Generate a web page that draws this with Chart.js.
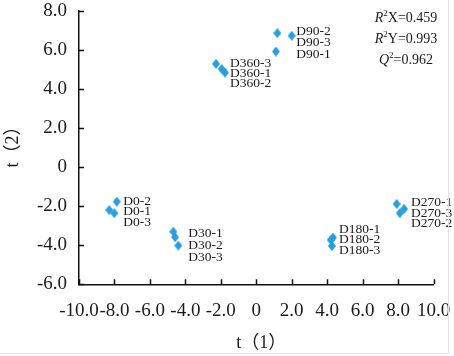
<!DOCTYPE html>
<html>
<head>
<meta charset="utf-8">
<script src="https://cdn.jsdelivr.net/npm/chart.js@4.4.0/dist/chart.umd.min.js"></script>
<style>
html,body{margin:0;padding:0;background:#fff;}
canvas{display:block;}
</style>
</head>
<body>
<canvas id="c" width="454" height="356"></canvas>
<script>
// ---- data ----
const d0X = [-7.87, -8.29, -8.01];
const d0Y = [-1.77, -2.20, -2.36];
const d0Labels = ['D0-2', 'D0-1', 'D0-3'];

const d30X = [-4.68, -4.58, -4.40];
const d30Y = [-3.31, -3.59, -4.02];
const d30Labels = ['D30-1', 'D30-2', 'D30-3'];

const d90X = [1.19, 2.00, 1.11];
const d90Y = [6.85, 6.72, 5.91];
const d90Labels = ['D90-2', 'D90-3', 'D90-1'];

const d180X = [4.33, 4.20, 4.27];
const d180Y = [-3.61, -3.73, -4.04];
const d180Labels = ['D180-1', 'D180-2', 'D180-3'];

const d270X = [7.92, 8.34, 8.10];
const d270Y = [-1.89, -2.14, -2.36];
const d270Labels = ['D270-1', 'D270-3', 'D270-2'];

const d360X = [-2.27, -1.95, -1.76];
const d360Y = [5.28, 5.02, 4.83];
const d360Labels = ['D360-3', 'D360-1', 'D360-2'];

const statNames = ['X', 'Y', ''];
const statPrefix = ['R', 'R', 'Q'];
const statValues = ['0.459', '0.993', '0.962'];

const xTitle = 't（1）';
const yTitle = 't（2）';

// ---- build ----
const groups = [
  {x: d0X, y: d0Y, labels: d0Labels, dx: 6.5, dy: -0.5, lh: 10.7},
  {x: d30X, y: d30Y, labels: d30Labels, dx: 10, dy: 1.5, lh: 12},
  {x: d90X, y: d90Y, labels: d90Labels, dx: 4.5, dy: -1.5, lh: 11.2},
  {x: d180X, y: d180Y, labels: d180Labels, dx: 6, dy: -8.5, lh: 10.8},
  {x: d270X, y: d270Y, labels: d270Labels, dx: 7, dy: -1.5, lh: 10.5},
  {x: d360X, y: d360Y, labels: d360Labels, dx: 5, dy: 0, lh: 9.9}
];

const BLUE = '#259fe0';
const diamond = document.createElement('canvas');
diamond.width = 8; diamond.height = 10;
(function(){
  const g = diamond.getContext('2d');
  g.fillStyle = BLUE;
  g.beginPath();
  g.moveTo(4, 0); g.lineTo(8, 5); g.lineTo(4, 10); g.lineTo(0, 5);
  g.closePath(); g.fill();
})();

const SERIF = "'Liberation Serif', 'Times New Roman', 'Noto Sans CJK SC', serif";
const TEXT = '#1a1a1a';
const fmt = v => (v === 0 ? '0' : Number(v).toFixed(1));

const datasets = groups.map(g => ({
  data: g.x.map((xv, i) => ({x: xv, y: g.y[i]})),
  pointStyle: diamond,
  pointRadius: 5,
  backgroundColor: BLUE,
  borderColor: BLUE,
  showLine: false
}));

const decor = {
  id: 'decor',
  afterDraw(chart) {
    const ctx = chart.ctx;
    const xs = chart.scales.x, ys = chart.scales.y;
    const area = chart.chartArea;
    ctx.save();
    // inward tick marks
    ctx.strokeStyle = '#111';
    ctx.lineWidth = 1.5;
    ctx.beginPath();
    xs.ticks.forEach(t => {
      const px = Math.round(xs.getPixelForValue(t.value)) + 0.5;
      ctx.moveTo(px, area.bottom);
      ctx.lineTo(px, area.bottom - 5);
    });
    ys.ticks.forEach(t => {
      const py = Math.round(ys.getPixelForValue(t.value)) + 0.5;
      ctx.moveTo(area.left, py);
      ctx.lineTo(area.left + 5, py);
    });
    ctx.stroke();

    // point labels
    ctx.fillStyle = TEXT;
    ctx.font = '13.5px ' + SERIF;
    ctx.textAlign = 'left';
    ctx.textBaseline = 'middle';
    groups.forEach(g => {
      const pxs = g.x.map(v => xs.getPixelForValue(v));
      const pys = g.y.map(v => ys.getPixelForValue(v));
      const ax = Math.max(...pxs) + g.dx;
      const ay = Math.min(...pys) + g.dy;
      g.labels.forEach((l, i) => ctx.fillText(l, ax, ay + i * g.lh));
    });

    // statistics block (top right)
    const cx = 406;
    const rows = [18, 39, 60];
    rows.forEach((ry, i) => {
      const italic = 'italic 14px ' + SERIF;
      const normal = '14px ' + SERIF;
      const sup = '9px ' + SERIF;
      const rest = statNames[i] + '=' + statValues[i];
      ctx.font = italic; const w1 = ctx.measureText(statPrefix[i]).width;
      ctx.font = sup; const w2 = ctx.measureText('2').width;
      ctx.font = normal; const w3 = ctx.measureText(rest).width;
      let x0 = cx - (w1 + w2 + w3) / 2;
      ctx.font = italic; ctx.fillText(statPrefix[i], x0, ry); x0 += w1;
      ctx.font = sup; ctx.fillText('2', x0, ry - 4); x0 += w2;
      ctx.font = normal; ctx.fillText(rest, x0, ry);
    });

    // axis titles
    ctx.font = '18px ' + SERIF;
    ctx.textAlign = 'left';
    ctx.textBaseline = 'middle';
    ctx.fillText(xTitle, (area.left + area.right) / 2 - 20, 343);
    ctx.save();
    ctx.translate(13, (area.top + area.bottom) / 2 + 20);
    ctx.rotate(-Math.PI / 2);
    ctx.fillText(yTitle, 0, 0);
    ctx.restore();

    // faint frame lines at right and bottom edge
    ctx.strokeStyle = '#e2e2e2';
    ctx.lineWidth = 1;
    ctx.beginPath();
    ctx.moveTo(448.5, 0); ctx.lineTo(448.5, 353.5);
    ctx.moveTo(0, 353.5); ctx.lineTo(448.5, 353.5);
    ctx.stroke();
    ctx.restore();
  }
};

new Chart(document.getElementById('c'), {
  type: 'scatter',
  data: {datasets},
  plugins: [decor],
  options: {
    responsive: false,
    animation: false,
    layout: {padding: {top: 10.7, right: 20.5, bottom: 0, left: 0}},
    plugins: {legend: {display: false}, tooltip: {enabled: false}},
    scales: {
      x: {
        type: 'linear', min: -10, max: 10,
        ticks: {stepSize: 2, autoSkip: false, maxRotation: 0, minRotation: 0, padding: 17,
          color: TEXT, font: {family: SERIF, size: 19, lineHeight: 1}, callback: fmt},
        grid: {display: false, drawTicks: false},
        border: {display: true, color: '#111', width: 1.5},
        afterFit(s) { s.height = 356 - 284.3; s.paddingLeft = 0; s.paddingRight = 0; }
      },
      y: {
        type: 'linear', min: -6, max: 8,
        ticks: {stepSize: 2, autoSkip: false, padding: 12,
          color: TEXT, font: {family: SERIF, size: 19, lineHeight: 1}, callback: fmt},
        grid: {display: false, drawTicks: false},
        border: {display: true, color: '#111', width: 1.5},
        afterFit(s) { s.width = 79; s.paddingTop = 0; s.paddingBottom = 0; }
      }
    }
  }
});
</script>
</body>
</html>
